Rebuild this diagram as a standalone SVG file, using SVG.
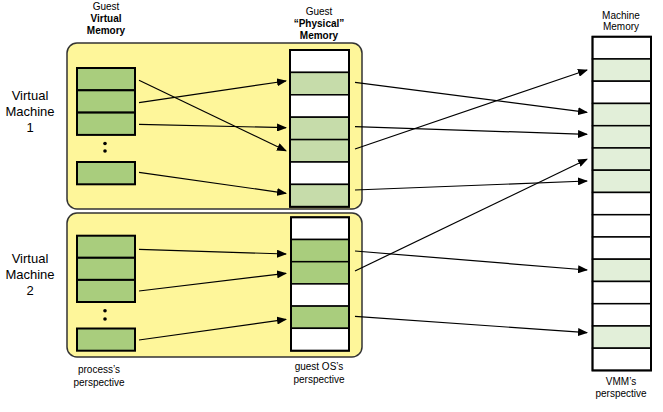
<svg xmlns="http://www.w3.org/2000/svg" width="663" height="412" viewBox="0 0 663 412">
<defs>
<style>
text{font-family:"Liberation Sans",Arial,sans-serif;fill:#000;text-anchor:middle}
.s{font-size:10px}
.b{font-weight:bold}
.l{font-size:13px}
.vm{fill:#fef69a;stroke:#333;stroke-width:1.5}
.vc{fill:#a9cd7d;stroke:#000;stroke-width:2}
.pw{fill:#fff;stroke:#000;stroke-width:1.5}
.pg{fill:#c6dcaa;stroke:#000;stroke-width:1.5}
.pd{fill:#a9cd7d;stroke:#000;stroke-width:1.5}
.mw{fill:#fff;stroke:#000;stroke-width:1.5}
.mg{fill:#e2efd9;stroke:#000;stroke-width:1.5}
.outer{fill:none;stroke:#000;stroke-width:2}
.a{stroke:#000;stroke-width:1.2;fill:none;marker-end:url(#ah)}
</style>
<marker id="ah" markerWidth="10" markerHeight="8" refX="9" refY="4" orient="auto" markerUnits="userSpaceOnUse">
<path d="M0,0 L10,4 L0,8 z" fill="#000"/>
</marker>
</defs>
<rect width="663" height="412" fill="#fff"/>

<g id="labels">
<text class="s" x="106" y="10">Guest</text>
<text class="s b" x="106" y="22">Virtual</text>
<text class="s b" x="106" y="34">Memory</text>
<text class="s" x="319" y="15">Guest</text>
<text class="s b" x="319" y="27">“Physical”</text>
<text class="s b" x="319" y="39">Memory</text>
<text class="s" x="621" y="19">Machine</text>
<text class="s" x="621" y="30">Memory</text>
<text class="s" x="99" y="373">process’s</text>
<text class="s" x="99" y="386">perspective</text>
<text class="s" x="319" y="370">guest OS’s</text>
<text class="s" x="319" y="383">perspective</text>
<text class="s" x="621" y="385">VMM’s</text>
<text class="s" x="621" y="397">perspective</text>
</g>

<g id="vm1">
<rect class="vm" x="67" y="43" width="295" height="166" rx="10"/>
<text class="l" x="30" y="100">Virtual</text>
<text class="l" x="30" y="116">Machine</text>
<text class="l" x="30" y="132">1</text>
<g id="vm1-virtual">
<rect class="vc" x="77" y="68" width="58" height="22.3"/>
<rect class="vc" x="77" y="90.3" width="58" height="22.3"/>
<rect class="vc" x="77" y="112.6" width="58" height="22.3"/>
<circle cx="105" cy="143.5" r="1.8"/>
<circle cx="105" cy="151" r="1.8"/>
<rect class="vc" x="77" y="162" width="58" height="22.3"/>
</g>
<g id="vm1-physical">
<rect class="pw" x="290" y="50" width="59" height="22.4"/>
<rect class="pg" x="290" y="72.4" width="59" height="22.4"/>
<rect class="pw" x="290" y="94.8" width="59" height="22.4"/>
<rect class="pg" x="290" y="117.2" width="59" height="22.4"/>
<rect class="pg" x="290" y="139.6" width="59" height="22.4"/>
<rect class="pw" x="290" y="162" width="59" height="22.4"/>
<rect class="pg" x="290" y="184.4" width="59" height="22.4"/>
<rect class="outer" x="290" y="50" width="59" height="156.8"/>
</g>
</g>

<g id="vm2">
<rect class="vm" x="67" y="213" width="295" height="144" rx="10"/>
<text class="l" x="30" y="263">Virtual</text>
<text class="l" x="30" y="279">Machine</text>
<text class="l" x="30" y="295">2</text>
<g id="vm2-virtual">
<rect class="vc" x="77" y="235.7" width="58" height="22.1"/>
<rect class="vc" x="77" y="257.8" width="58" height="22.1"/>
<rect class="vc" x="77" y="279.9" width="58" height="22.1"/>
<circle cx="105" cy="310.7" r="1.8"/>
<circle cx="105" cy="319" r="1.8"/>
<rect class="vc" x="77" y="328.5" width="58" height="22.2"/>
</g>
<g id="vm2-physical">
<rect class="pw" x="291" y="217.3" width="58" height="22.2"/>
<rect class="pd" x="291" y="239.5" width="58" height="22.2"/>
<rect class="pd" x="291" y="261.7" width="58" height="22.2"/>
<rect class="pw" x="291" y="283.9" width="58" height="22.2"/>
<rect class="pd" x="291" y="306.1" width="58" height="22.2"/>
<rect class="pw" x="291" y="328.3" width="58" height="22.4"/>
<rect class="outer" x="291" y="217.3" width="58" height="133.4"/>
</g>
</g>

<g id="machine">
<rect class="mw" x="592.5" y="36.7" width="58.5" height="22.25"/>
<rect class="mg" x="592.5" y="58.95" width="58.5" height="22.25"/>
<rect class="mw" x="592.5" y="81.2" width="58.5" height="22.25"/>
<rect class="mg" x="592.5" y="103.45" width="58.5" height="22.25"/>
<rect class="mg" x="592.5" y="125.7" width="58.5" height="22.25"/>
<rect class="mg" x="592.5" y="147.95" width="58.5" height="22.25"/>
<rect class="mg" x="592.5" y="170.2" width="58.5" height="22.25"/>
<rect class="mw" x="592.5" y="192.45" width="58.5" height="22.25"/>
<rect class="mw" x="592.5" y="214.7" width="58.5" height="22.25"/>
<rect class="mw" x="592.5" y="236.95" width="58.5" height="22.25"/>
<rect class="mg" x="592.5" y="259.2" width="58.5" height="22.25"/>
<rect class="mw" x="592.5" y="281.45" width="58.5" height="22.25"/>
<rect class="mw" x="592.5" y="303.7" width="58.5" height="22.25"/>
<rect class="mg" x="592.5" y="325.95" width="58.5" height="22.25"/>
<rect class="mw" x="592.5" y="348.2" width="58.5" height="22.25"/>
<rect class="outer" x="592.5" y="36.7" width="58.5" height="333.75"/>
</g>

<g id="connectors">
<line class="a" x1="139" y1="80.3" x2="286" y2="150.7"/>
<line class="a" x1="139" y1="102.7" x2="286" y2="81"/>
<line class="a" x1="139" y1="124.3" x2="286" y2="127.7"/>
<line class="a" x1="139" y1="172.3" x2="286" y2="193.3"/>
<line class="a" x1="139" y1="249.3" x2="286" y2="254"/>
<line class="a" x1="139" y1="291" x2="286" y2="273.3"/>
<line class="a" x1="139" y1="340" x2="286" y2="319.3"/>
<line class="a" x1="355" y1="82.3" x2="587" y2="112.3"/>
<line class="a" x1="355" y1="126.7" x2="587" y2="134.3"/>
<line class="a" x1="355" y1="149" x2="587" y2="70"/>
<line class="a" x1="355" y1="190" x2="587" y2="181"/>
<line class="a" x1="355" y1="271" x2="587" y2="159.3"/>
<line class="a" x1="355" y1="251" x2="587" y2="270"/>
<line class="a" x1="355" y1="316.3" x2="587" y2="332.7"/>
</g>
</svg>
